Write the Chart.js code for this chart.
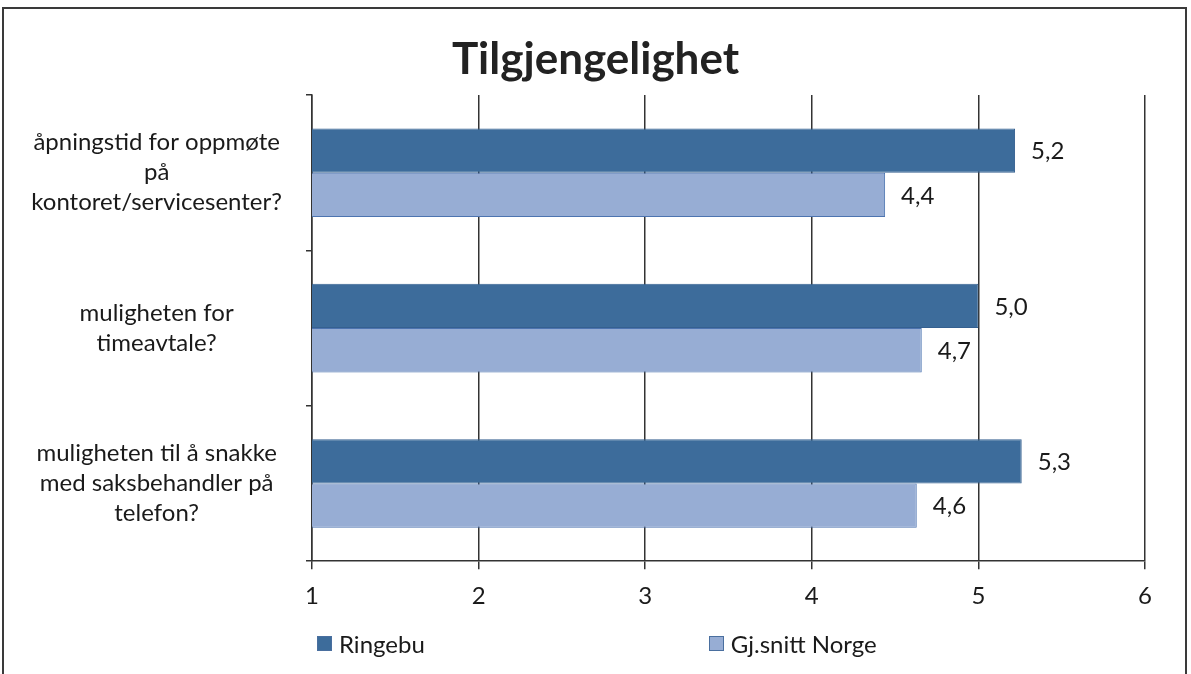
<!DOCTYPE html>
<html>
<head>
<meta charset="utf-8">
<script src="https://cdn.jsdelivr.net/npm/chart.js@4/dist/chart.umd.min.js"></script>
<style>
  html, body { margin: 0; padding: 0; background: #fff; }
  #wrap { position: relative; width: 1191px; height: 674px; overflow: hidden; }
  #frame { position: absolute; left: 2px; top: 7px; width: 1181px; height: 700px; border: 2px solid #3a3a3a; pointer-events: none; }
  #legend { position: absolute; left: 317px; top: 629px; display: flex; gap: 284px; font-family: Lato, sans-serif; font-size: 24px; color: #1a1a1a; }
  #legend .item { display: flex; align-items: center; }
  #legend .box { width: 15px; height: 15px; margin-right: 7px; box-sizing: border-box; border: 1px solid #4a6f9f; }
</style>
</head>
<body>
<div id="wrap">
  <canvas id="chart" width="1191" height="674"></canvas>
  <div id="frame"></div>
  <div id="legend"></div>
</div>
<script>
// --- DATA ---
const chartTitle = 'Tilgjengelighet';
const categories = [
    ['åpningstid for oppmøte', 'på', 'kontoret/servicesenter?'],
    ['muligheten for', 'timeavtale?'],
    ['muligheten til å snakke', 'med saksbehandler på', 'telefon?']
];
const seriesNames = ['Ringebu', 'Gj.snitt Norge'];
const ringebu = [5.22, 5.0, 5.26];
const norge = [4.44, 4.66, 4.63];
const xTicks = [1, 2, 3, 4, 5, 6];

const colors = ['#3d6c9b', '#97add4'];
const borders = ['#356090', '#4d74b0'];

// value labels next to each bar end, Norwegian decimal comma
const valueLabels = {
    id: 'valueLabels',
    afterDatasetsDraw(chart) {
        const ctx = chart.ctx;
        ctx.save();
        ctx.font = '24px Lato, sans-serif';
        ctx.fillStyle = '#1a1a1a';
        ctx.textBaseline = 'middle';
        chart.data.datasets.forEach((ds, i) => {
            chart.getDatasetMeta(i).data.forEach((bar, j) => {
                const txt = ds.data[j].toFixed(1).replace('.', ',');
                ctx.fillText(txt, bar.x + 16, bar.y + 1);
            });
        });
        ctx.restore();
    }
};

// title centred on the whole canvas (the built-in one centres on the padded box)
const pageTitle = {
    id: 'pageTitle',
    afterDraw(chart) {
        const ctx = chart.ctx;
        ctx.save();
        ctx.font = 'bold 44px Lato, sans-serif';
        ctx.fillStyle = '#222';
        ctx.textAlign = 'center';
        ctx.textBaseline = 'middle';
        ctx.fillText(chartTitle, chart.width / 2, 60);
        ctx.restore();
    }
};

const ctx = document.getElementById('chart').getContext('2d');
const chart = new Chart(ctx, {
    type: 'bar',
    data: {
        labels: categories,
        datasets: [
            { label: seriesNames[0], data: ringebu, backgroundColor: colors[0], borderColor: borders[0], borderWidth: 1, borderSkipped: false },
            { label: seriesNames[1], data: norge, backgroundColor: colors[1], borderColor: borders[1], borderWidth: 1, borderSkipped: false }
        ]
    },
    options: {
        indexAxis: 'y',
        responsive: false,
        animation: false,
        categoryPercentage: 0.57,
        barPercentage: 1.0,
        layout: { padding: { left: 20, right: 46, top: 95, bottom: 50 } },
        scales: {
            x: {
                min: 1,
                max: 6,
                afterBuildTicks: (s) => { s.ticks = xTicks.map(v => ({ value: v })); },
                grid: { color: '#333', lineWidth: 1.5, tickLength: 8 },
                border: { color: '#333', width: 1.5 },
                ticks: { color: '#1a1a1a', font: { family: 'Lato', size: 24 }, padding: 13 }
            },
            y: {
                grid: { drawOnChartArea: false, color: '#333', lineWidth: 1.5, tickLength: 6 },
                border: { color: '#333', width: 1.5 },
                afterFit: (s) => { s.width = 292; },
                ticks: { color: '#1a1a1a', font: { family: 'Lato', size: 24, lineHeight: 1.25 }, crossAlign: 'center', padding: 24 }
            }
        },
        plugins: {
            legend: { display: false },
            tooltip: { enabled: false },
            title: { display: false }
        }
    },
    plugins: [valueLabels, pageTitle]
});

// legend built from the dataset names and colours
const legendEl = document.getElementById('legend');
seriesNames.forEach((name, i) => {
    const item = document.createElement('div');
    item.className = 'item';
    const box = document.createElement('span');
    box.className = 'box';
    box.style.background = colors[i];
    const txt = document.createElement('span');
    txt.textContent = name;
    item.appendChild(box);
    item.appendChild(txt);
    legendEl.appendChild(item);
});
</script>
</body>
</html>
